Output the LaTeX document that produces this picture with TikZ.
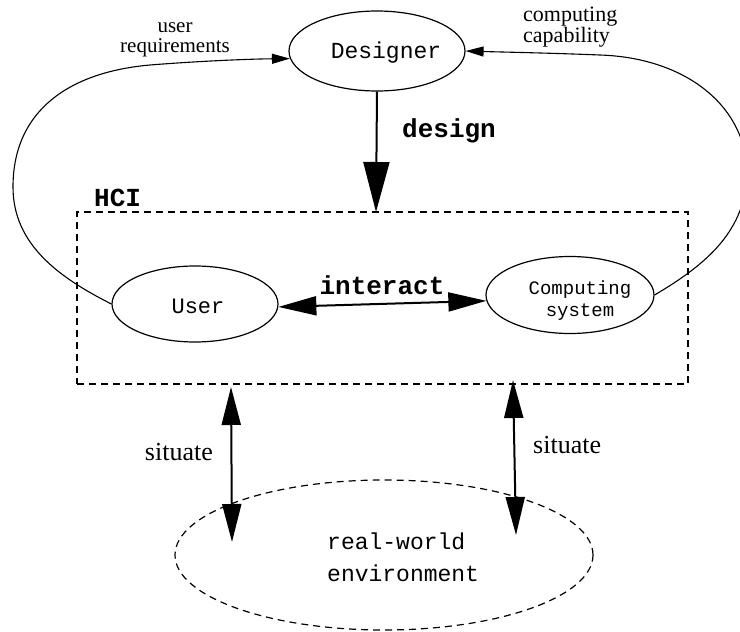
\documentclass[tikz,border=0pt]{standalone}
\usepackage{fontspec}
\setmainfont{Liberation Serif}
\setmonofont{Liberation Mono}
\usetikzlibrary{shapes.geometric,arrows.meta}
\begin{document}
\begin{tikzpicture}[x=1pt,y=-1pt,
  ell/.style={ellipse, draw, line width=1.2pt, inner sep=0pt},
  dsh/.style={dash pattern=on 7pt off 5pt},
  thinarrow/.style={line width=1.1pt, -{Triangle[length=18pt,width=10pt]}},
  bigarrow/.style={line width=2pt, {Triangle[length=38pt,width=19pt]}-{Triangle[length=38pt,width=19pt]}},
  designarrow/.style={line width=2pt, -{Triangle[length=50pt,width=26pt]}},
  mono/.style={font=\ttfamily\fontsize{#1}{#1}\selectfont, inner sep=0pt},
  serif/.style={font=\fontsize{#1}{#1}\selectfont, inner sep=0pt}
]
\useasboundingbox (0,0) rectangle (740,632);

% ellipses
\node[ell, minimum width=176pt, minimum height=80pt] (des) at (377,51) {};
\node[ell, minimum width=166pt, minimum height=76pt] (user) at (195,304) {};
\node[ell, minimum width=168pt, minimum height=77pt] (comp) at (570,295) {};
\node[ell, dsh, minimum width=418pt, minimum height=150pt] (env) at (384,555) {};

% HCI box
\node[draw, dsh, line width=1.2pt, minimum width=611pt, minimum height=172pt, inner sep=0pt] (hci) at (382.5,298) {};

% texts in ellipses
\node[mono=23, anchor=base] (destext) at (386,58) {Designer};
\node[mono=22, anchor=base] (usertext) at (198,313) {User};
\node[mono=19, align=center, font=\ttfamily\fontsize{19}{22}\selectfont] (comptext) at (580,301) {Computing\\system};
\node[mono=23, align=left, anchor=west, font=\ttfamily\fontsize{23}{32}\selectfont] (envtext) at (327,557) {real-world\\environment};

% labels
\node[mono=26, anchor=base west, font=\ttfamily\bfseries\fontsize{26}{26}\selectfont] (hcilabel) at (94,206) {HCI};
\node[mono=26, anchor=base west, font=\ttfamily\bfseries\fontsize{26}{26}\selectfont] (designlabel) at (402,137) {design};
\node[mono=26, anchor=base, font=\ttfamily\bfseries\fontsize{26}{26}\selectfont] (interactlabel) at (382,294) {interact};
\node[serif=21, align=center, font=\fontsize{21}{20}\selectfont] (ureq) at (175,40) {user\\requirements};
\node[serif=22, align=left, anchor=west, font=\fontsize{22}{17}\selectfont] (ccap) at (523,27) {computing\\capability};
\node[serif=26, anchor=base east] (sit1) at (213,460) {situate};
\node[serif=26, anchor=base west] (sit2) at (533,453) {situate};

% design arrow
\coordinate (dtip) at (376,212);
\draw[designarrow] (des.south) -- (dtip);

% interact arrow
\draw[bigarrow] (user.-2) -- (comp.184);

% situate arrows
\coordinate (s1) at (232,542);
\coordinate (s1t) at (231,387);
\coordinate (s2) at (516,535);
\coordinate (s2t) at (513,380);
\draw[bigarrow] (s1t) -- (s1);
\draw[bigarrow] (s2t) -- (s2);

% user requirements feedback
\draw[thinarrow] (user.west) .. controls (60,278) and (13,245) .. (13,187)
  .. controls (13,110) and (70,72) .. (150,65)
  .. controls (200,61) and (250,59) .. (des.185);

% computing capability feedback
\draw[thinarrow] (comp.east) .. controls (700,268) and (745,235) .. (747,175)
  .. controls (748,110) and (690,58) .. (600,55)
  .. controls (550,53) and (500,52) .. (des.east);
\end{tikzpicture}
\end{document}
